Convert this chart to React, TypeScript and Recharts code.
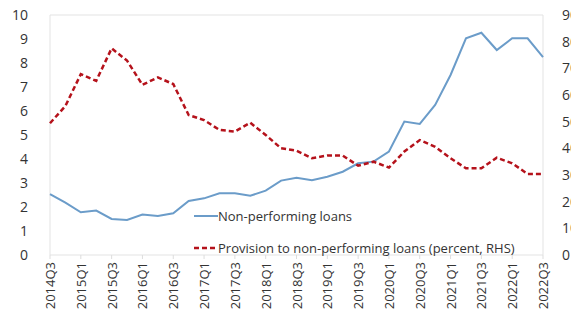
import { Line, LineChart, ReferenceArea, XAxis, YAxis } from 'recharts';

const quarters = [
    '2014Q3', '2014Q4', '2015Q1', '2015Q2', '2015Q3', '2015Q4', '2016Q1', '2016Q2', '2016Q3',
    '2016Q4', '2017Q1', '2017Q2', '2017Q3', '2017Q4', '2018Q1', '2018Q2', '2018Q3', '2018Q4',
    '2019Q1', '2019Q2', '2019Q3', '2019Q4', '2020Q1', '2020Q2', '2020Q3', '2020Q4', '2021Q1',
    '2021Q2', '2021Q3', '2021Q4', '2022Q1', '2022Q2', '2022Q3',
];

// non-performing loans, left axis
const npl = [
    2.54, 2.18, 1.78, 1.85, 1.5, 1.46, 1.69, 1.63, 1.74, 2.25, 2.36, 2.57, 2.57, 2.47, 2.68, 3.1, 3.22,
    3.12, 3.26, 3.47, 3.82, 3.89, 4.31, 5.56, 5.46, 6.25, 7.5, 9.03, 9.26, 8.54, 9.03, 9.03, 8.24,
];

// provision to NPL (percent), right axis
const provision = [
    49.4, 55.9, 67.8, 65.3, 77.5, 72.9, 63.8, 66.6, 64.1, 52.5, 50.6, 46.9, 46.3, 49.6, 45.0, 40.0, 39.1,
    36.3, 37.3, 37.3, 33.5, 35.0, 32.8, 38.8, 43.1, 40.6, 36.3, 32.5, 32.5, 36.5, 34.4, 30.4, 30.4,
];

const leftTicks = [0, 1, 2, 3, 4, 5, 6, 7, 8, 9, 10];
const rightTicks = [0, 10, 20, 30, 40, 50, 60, 70, 80, 90];

const data = quarters.map((q, i) => ({ q, npl: npl[i], provision: provision[i] }));

const FONT = '"Open Sans", "Noto Sans", sans-serif';
const BLUE = '#6b9cc9';
const RED = '#b5121b';

const XTick = ({ x, y, payload }: any) => (
    <text
        x={x}
        y={y}
        transform={`rotate(-90 ${x} ${y})`}
        textAnchor="end"
        dominantBaseline="central"
        fontSize={13}
        fontFamily={FONT}
        fill="#333"
    >
        {payload.value}
    </text>
);

// legend sits inside the plot, lower middle
const LegendBox = () => (
    <div
        style={{
            position: 'absolute',
            left: 194,
            top: 200,
            fontFamily: FONT,
            fontSize: 13,
            color: '#333',
            lineHeight: '32px',
        }}
    >
        <div style={{ display: 'flex', alignItems: 'center' }}>
            <svg width={24} height={6}>
                <line x1={0} y1={3} x2={24} y2={3} stroke={BLUE} strokeWidth={2} />
            </svg>
            <span>Non-performing loans</span>
        </div>
        <div style={{ display: 'flex', alignItems: 'center' }}>
            <svg width={24} height={6}>
                <line x1={0} y1={3} x2={24} y2={3} stroke={RED} strokeWidth={2.5} strokeDasharray="5 3" />
            </svg>
            <span>Provision to non-performing loans (percent, RHS)</span>
        </div>
    </div>
);

export default function App() {
    return (
        <div style={{ position: 'absolute', left: 0, top: 0, width: 571, height: 320, background: '#fff', overflow: 'hidden' }}>
            <LineChart width={571} height={320} data={data} margin={{ top: 15, right: 0, bottom: 0, left: 0 }}>
                <ReferenceArea yAxisId="left" y1={0} y2={10} fill="none" stroke="#e3e3e3" strokeWidth={1} />
                <XAxis
                    dataKey="q"
                    interval={1}
                    height={65}
                    padding={{ left: 8, right: 6 }}
                    axisLine={false}
                    tickLine={{ stroke: '#dddddd' }}
                    tickSize={4}
                    tickMargin={3}
                    tick={<XTick />}
                />
                <YAxis
                    yAxisId="left"
                    width={42}
                    domain={[0, 10]}
                    ticks={leftTicks}
                    interval={0}
                    axisLine={false}
                    tickLine={false}
                    tickSize={6}
                    tickMargin={8}
                    tick={{ fontSize: 14, fontFamily: FONT, fill: '#333' }}
                />
                <YAxis
                    yAxisId="right"
                    orientation="right"
                    width={22}
                    domain={[0, 90]}
                    ticks={rightTicks}
                    interval={0}
                    axisLine={false}
                    tickLine={false}
                    tickSize={0}
                    tickMargin={13}
                    tick={{ fontSize: 14, fontFamily: FONT, fill: '#333', textAnchor: 'start' }}
                />
                <Line
                    yAxisId="left"
                    type="linear"
                    dataKey="npl"
                    stroke={BLUE}
                    strokeWidth={2}
                    dot={false}
                    isAnimationActive={false}
                />
                <Line
                    yAxisId="right"
                    type="linear"
                    dataKey="provision"
                    stroke={RED}
                    strokeWidth={2.5}
                    strokeDasharray="5 3"
                    dot={false}
                    isAnimationActive={false}
                />
            </LineChart>
            <LegendBox />
        </div>
    );
}
